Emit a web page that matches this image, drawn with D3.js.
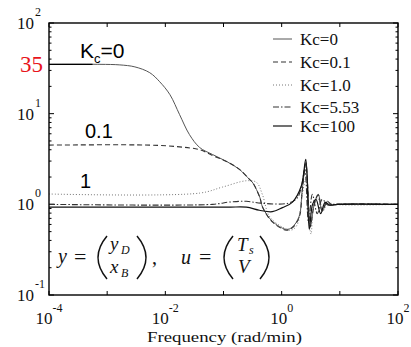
<!DOCTYPE html>
<html><head><meta charset="utf-8">
<script src="https://cdn.jsdelivr.net/npm/d3@7"></script>
<style>body{margin:0;background:#fff}svg{display:block}</style>
</head><body>
<svg id="c" width="411" height="347"></svg>
<script>
// ---- data ----
const seriesNames = ["Kc=0", "Kc=0.1", "Kc=1.0", "Kc=5.53", "Kc=100"];
const freqKc0 = [1e-4, 7.5e-4, 1.65e-3, 3e-3, 5.4e-3, 8e-3, 0.012, 0.0176, 0.026, 0.039, 0.065, 0.113, 0.188, 0.28, 0.32, 0.42, 0.47, 0.69, 1.2, 1.52, 2.0, 2.26, 2.6, 2.8, 3.1, 3.63, 4.26, 4.98, 6.07, 7.4, 9, 100];
const magKc0  = [35, 35, 34.5, 32.8, 28.3, 22.5, 16.2, 9.75, 5.87, 4.23, 3.54, 2.97, 2.43, 1.88, 1.72, 1.2, 0.93, 0.65, 0.53, 0.56, 0.74, 1.46, 2.9, 1.66, 0.56, 1.0, 1.29, 0.84, 1.08, 0.98, 1, 1];
const freqKc01 = [1e-4, 5.4e-3, 0.0176, 0.039, 0.065, 0.113, 0.188, 0.28, 0.32, 0.42, 0.47, 0.69, 1.2, 1.52, 2.0, 2.26, 2.6, 2.8, 3.1, 3.63, 4.26, 4.98, 6.07, 7.4, 9, 100];
const magKc01  = [4.5, 4.5, 4.3, 4.0, 3.45, 2.97, 2.43, 1.88, 1.72, 1.2, 0.93, 0.64, 0.52, 0.55, 0.72, 1.4, 2.8, 1.6, 0.57, 1.0, 1.27, 0.85, 1.07, 0.98, 1, 1];
const freqKc1 = [1e-4, 0.039, 0.096, 0.248, 0.368, 0.467, 0.615, 1.03, 1.47, 1.86, 2.26, 2.6, 2.9, 3.2, 3.74, 4.4, 5.1, 6.3, 8, 100];
const magKc1  = [1.30, 1.33, 1.55, 1.82, 1.75, 1.28, 0.74, 0.56, 0.52, 0.6, 1.29, 1.88, 0.78, 0.47, 1.13, 1.13, 0.84, 1.05, 1, 1];
const freqKc553 = [1e-4, 0.065, 0.127, 0.248, 0.44, 1.3, 1.86, 2.2, 2.5, 2.9, 3.37, 4.1, 4.98, 6.3, 8, 100];
const magKc553  = [1.0, 1.0, 1.06, 1.08, 1.03, 1.03, 1.18, 1.6, 2.43, 0.63, 1.29, 0.79, 1.13, 0.98, 1, 1];
const freqKc100 = [1e-4, 0.113, 0.248, 0.414, 0.69, 1.03, 1.52, 2.17, 2.6, 2.98, 3.4, 3.9, 4.67, 5.6, 6.8, 9, 100];
const magKc100  = [0.93, 0.93, 0.93, 0.86, 0.83, 0.92, 1.05, 1.58, 3.13, 0.53, 1.0, 1.13, 0.79, 1.05, 0.98, 1, 1];
const xTickDecades = [-4, -3, -2, -1, 0, 1, 2];
const xLabelDecades = [-4, -2, 0, 2];
const yTickDecades = [-1, 0, 1, 2];
const annot35Freq = [1e-4, 5.6e-4];
const annot35Mag = [35, 35];

// ---- layout ----
const L = 49, R = 398, T = 23, B = 295;
const svg = d3.select("#c");
svg.append("rect").attr("width", 411).attr("height", 347).attr("fill", "#fff");
const x = d3.scaleLog().domain([1e-4, 1e2]).range([L, R]);
const y = d3.scaleLog().domain([1e-1, 1e2]).range([B, T]);
const serif = "'Liberation Serif','Times New Roman',serif";
const sans = "'Liberation Sans',Arial,sans-serif";

// ticks
const tk = svg.append("g").attr("stroke", "#000").attr("stroke-width", 1);
xTickDecades.forEach(d => {
  const px = x(Math.pow(10, d));
  tk.append("line").attr("x1", px).attr("x2", px).attr("y1", B).attr("y2", B - 4);
  tk.append("line").attr("x1", px).attr("x2", px).attr("y1", T).attr("y2", T + 4);
});
yTickDecades.forEach(d => {
  const py = y(Math.pow(10, d));
  tk.append("line").attr("x1", L).attr("x2", L + 5).attr("y1", py).attr("y2", py);
  tk.append("line").attr("x1", R).attr("x2", R - 5).attr("y1", py).attr("y2", py);
  if (d < 2) for (let k = 2; k <= 9; k++) {
    const pm = y(k * Math.pow(10, d));
    tk.append("line").attr("x1", L).attr("x2", L + 2.5).attr("y1", pm).attr("y2", pm);
    tk.append("line").attr("x1", R).attr("x2", R - 2.5).attr("y1", pm).attr("y2", pm);
  }
});

// tick labels
xLabelDecades.forEach(d => {
  const t = svg.append("text").attr("x", x(Math.pow(10, d))).attr("y", 324)
    .attr("text-anchor", "middle").attr("font-family", serif).attr("font-size", 17).attr("fill", "#111");
  t.append("tspan").text("10");
  t.append("tspan").attr("dy", -12).attr("font-size", 12).text(String(d));
});
yTickDecades.forEach(d => {
  const py = y(Math.pow(10, d));
  svg.append("text").attr("x", 34).attr("y", py + 6).attr("text-anchor", "end")
    .attr("font-family", serif).attr("font-size", 17).attr("fill", "#111").text("10");
  svg.append("text").attr("x", 35).attr("y", py - 7)
    .attr("font-family", serif).attr("font-size", 12).attr("fill", "#111").text(String(d));
});
svg.append("text").attr("x", 43).attr("y", y(35) + 8).attr("text-anchor", "end")
  .attr("font-family", serif).attr("font-size", 23).attr("fill", "#e8141c").text("35");

// axis title
svg.append("text").attr("x", 147).attr("y", 342).attr("font-family", serif).attr("font-size", 15)
  .attr("textLength", 155).attr("lengthAdjust", "spacingAndGlyphs").attr("fill", "#111")
  .text("Frequency (rad/min)");

// curves
const styles = [
  {f: freqKc0, m: magKc0, stroke: "#555", w: 1, dash: null},
  {f: freqKc01, m: magKc01, stroke: "#333", w: 1.1, dash: "5,3"},
  {f: freqKc1, m: magKc1, stroke: "#777", w: 1, dash: "1,2"},
  {f: freqKc553, m: magKc553, stroke: "#333", w: 1.1, dash: "6,2,1.5,2"},
  {f: freqKc100, m: magKc100, stroke: "#111", w: 1.2, dash: null}
];
const line = d3.line().x(p => x(p[0])).y(p => y(p[1])).curve(d3.curveCatmullRom.alpha(0.5));
const cg = svg.append("g").attr("fill", "none");
styles.forEach(s => {
  cg.append("path").datum(s.f.map((f, i) => [f, s.m[i]])).attr("d", line)
    .attr("stroke", s.stroke).attr("stroke-width", s.w).attr("stroke-dasharray", s.dash);
});
cg.append("path").datum(annot35Freq.map((f, i) => [f, annot35Mag[i]])).attr("d", d3.line().x(p => x(p[0])).y(p => y(p[1])))
  .attr("stroke", "#000").attr("stroke-width", 1.3);

// frame
svg.append("rect").attr("x", L).attr("y", T).attr("width", R - L).attr("height", B - T)
  .attr("fill", "none").attr("stroke", "#000").attr("stroke-width", 1.4);

// legend
const legY = [39, 62, 85, 107, 126];
const lg = svg.append("g");
styles.forEach((s, i) => {
  lg.append("line").attr("x1", 273).attr("x2", 292).attr("y1", legY[i]).attr("y2", legY[i])
    .attr("stroke", s.stroke).attr("stroke-width", s.w).attr("stroke-dasharray", s.dash);
  lg.append("text").attr("x", 300).attr("y", legY[i] + 6).attr("font-family", serif)
    .attr("font-size", 17).attr("fill", "#111").text(seriesNames[i]);
});

// curve annotations
const k0 = svg.append("text").attr("x", 80).attr("y", 58).attr("font-family", sans).attr("font-size", 21).attr("fill", "#000");
k0.append("tspan").text("K");
k0.append("tspan").attr("font-size", 13).attr("dy", 5).text("c");
k0.append("tspan").attr("dy", -5).text("=0");
svg.append("text").attr("x", 85).attr("y", 138).attr("font-family", sans).attr("font-size", 20).text("0.1");
svg.append("text").attr("x", 80).attr("y", 188).attr("font-family", sans).attr("font-size", 20).text("1");

// equation
const eq = svg.append("g").attr("font-family", serif).attr("fill", "#111");
function it(tx, px, py, fs, italic) {
  eq.append("text").attr("x", px).attr("y", py).attr("font-size", fs)
    .attr("font-style", italic ? "italic" : "normal").text(tx);
}
it("y", 58, 263, 20, true);
it("=", 74, 264, 22, false);
it("y", 110, 250, 19, true); it("D", 121, 254, 12, true);
it("x", 110, 273, 19, true); it("B", 121, 277, 12, true);
it(",", 152, 264, 20, false);
it("u", 181, 264, 20, true);
it("=", 199, 264, 22, false);
it("T", 237, 251, 19, true); it("s", 249, 254, 12, true);
it("V", 238, 273, 19, true);
function paren(x0, x1, left) {
  const y0 = 236, y1 = 279, ym = (y0 + y1) / 2;
  const a = left ? x1 : x0, b = left ? x0 : x1;
  eq.append("path").attr("d", `M${a},${y0} Q${2 * b - a},${ym} ${a},${y1}`)
    .attr("fill", "none").attr("stroke", "#111").attr("stroke-width", 1.5);
}
paren(98, 107, true); paren(137, 146, false);
paren(224, 233, true); paren(260, 269, false);
</script>
</body></html>
